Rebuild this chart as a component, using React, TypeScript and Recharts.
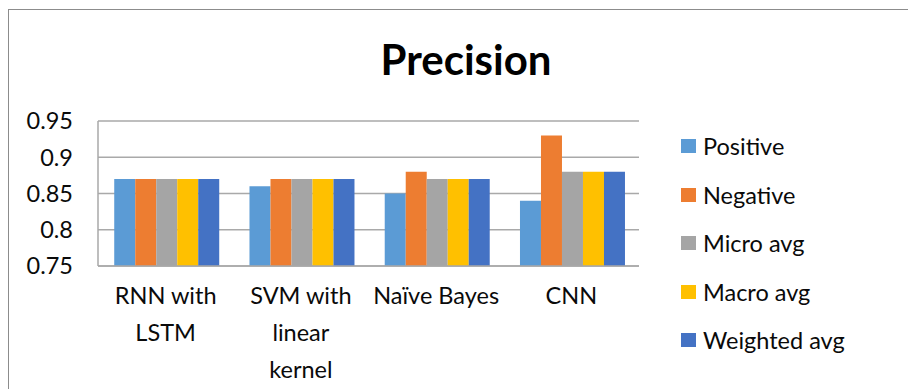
import { BarChart, Bar, XAxis, YAxis, CartesianGrid } from "recharts";

const categories = ["RNN with\nLSTM", "SVM with\nlinear\nkernel", "Naïve Bayes", "CNN"];
const positive = [0.87, 0.86, 0.85, 0.84];
const negative = [0.87, 0.87, 0.88, 0.93];
const microAvg = [0.87, 0.87, 0.87, 0.88];
const macroAvg = [0.87, 0.87, 0.87, 0.88];
const weightedAvg = [0.87, 0.87, 0.87, 0.88];
const yTicks = [0.75, 0.8, 0.85, 0.9, 0.95];

const SERIES = [
  { key: "positive", name: "Positive", values: positive, color: "#5b9bd5" },
  { key: "negative", name: "Negative", values: negative, color: "#ed7d31" },
  { key: "micro", name: "Micro avg", values: microAvg, color: "#a5a5a5" },
  { key: "macro", name: "Macro avg", values: macroAvg, color: "#ffc000" },
  { key: "weighted", name: "Weighted avg", values: weightedAvg, color: "#4472c4" },
];

const rows = categories.map((c, i) => {
  const r: any = { name: c };
  SERIES.forEach(s => { r[s.key] = s.values[i]; });
  return r;
});

const FONT = "Lato, 'Open Sans', sans-serif";
const GRID = "#a9a9a9";
const TEXT = "#0a0a0a";

function CatTick({ x, y, payload }: any) {
  const lines = String(payload.value).split("\n");
  return (
    <g>
      {lines.map((ln, i) => (
        <text key={i} x={x} y={y + 30 + i * 37} dy="0.36em" textAnchor="middle"
          fontSize={23.5} fontFamily={FONT} fill={TEXT}>{ln}</text>
      ))}
    </g>
  );
}

export default function App() {
  return (
    <div style={{ position: "absolute", left: 0, top: 0, width: 908, height: 389, overflow: "hidden", background: "#fff" }}>
      <div style={{ position: "absolute", left: 8, top: 9, width: 940, height: 420, border: "1.5px solid #8c8c8c" }} />
      <div style={{ position: "absolute", left: 0, top: 34, width: 932, textAlign: "center", fontFamily: FONT, fontWeight: 700, fontSize: 42, color: "#000", lineHeight: "50px" }}>
        Precision
      </div>
      <div style={{ position: "absolute", left: 0, top: 0 }}>
        <BarChart width={908} height={389} data={rows} barCategoryGap="12%" barGap={0}
          margin={{ top: 121, right: 269, bottom: 0, left: 8 }}>
          <CartesianGrid horizontal vertical={false} stroke={GRID} strokeWidth={1.5} />
          <XAxis dataKey="name" height={123} tickLine={false} tickSize={0} tickMargin={0}
            axisLine={{ stroke: GRID, strokeWidth: 1.5 }} tick={<CatTick />} interval={0} />
          <YAxis domain={[0.75, 0.95]} ticks={yTicks} width={90} tickLine={false} tickSize={0} tickMargin={25}
            axisLine={{ stroke: GRID, strokeWidth: 1.5 }}
            tick={{ fontSize: 23.5, fontFamily: FONT, fill: TEXT }} />
          {SERIES.map(s => (
            <Bar key={s.key} dataKey={s.key} name={s.name} fill={s.color} isAnimationActive={false} />
          ))}
        </BarChart>
      </div>
      <div style={{ position: "absolute", left: 681, top: 122, fontFamily: FONT, fontSize: 23.5, color: TEXT }}>
        {SERIES.map(s => (
          <div key={s.key} style={{ display: "flex", alignItems: "center", height: 48.5, whiteSpace: "nowrap" }}>
            <span style={{ width: 15, height: 14, background: s.color, display: "inline-block" }} />
            <span style={{ marginLeft: 7 }}>{s.name}</span>
          </div>
        ))}
      </div>
    </div>
  );
}
